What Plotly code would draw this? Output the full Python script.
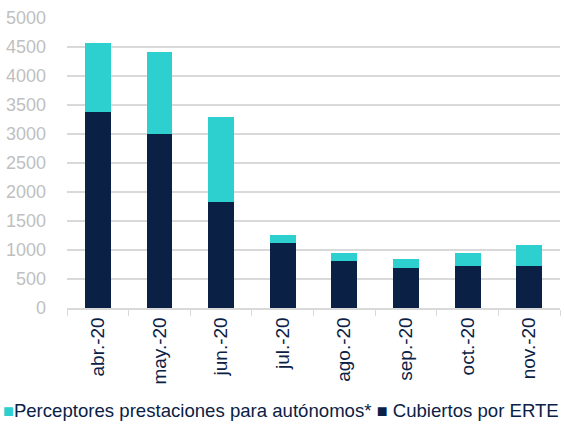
import plotly.graph_objects as go

categories = ["abr.-20", "may.-20", "jun.-20", "jul.-20", "ago.-20", "sep.-20", "oct.-20", "nov.-20"]
erte = [3380, 3000, 1830, 1115, 810, 695, 725, 725]
autonomos = [1185, 1420, 1470, 140, 140, 147, 225, 368]
name_erte = "Cubiertos por ERTE"
name_auto = "Perceptores prestaciones para autónomos*"

NAVY = "#0A2145"
TEAL = "#2ECFCF"
FONT = "Liberation Sans, Arial, sans-serif"

fig = go.Figure()
fig.add_trace(go.Bar(x=categories, y=erte, name=name_erte,
                     marker=dict(color=NAVY, line=dict(width=0))))
fig.add_trace(go.Bar(x=categories, y=autonomos, name=name_auto,
                     marker=dict(color=TEAL, line=dict(width=0))))

legend_html = (f"<span style='color:{TEAL};font-size:18px'>■</span>{name_auto} "
               f"<span style='color:{NAVY};font-size:18px'>■</span> {name_erte}")
fig.add_annotation(text=legend_html, xref="paper", yref="paper",
                   x=-0.133, xanchor="left", y=-0.352, yanchor="middle",
                   showarrow=False, font=dict(family=FONT, size=18.6, color=NAVY))

fig.update_layout(
    barmode="stack",
    bargap=0.58,
    width=564, height=424,
    margin=dict(l=67, r=4, t=18, b=116, autoexpand=False),
    paper_bgcolor="white", plot_bgcolor="white",
    font=dict(family=FONT, size=19, color=NAVY),
    showlegend=False,
    xaxis=dict(showline=True, linecolor="#D9D9D9", linewidth=1.5, automargin=False,
               ticks="outside", tickson="boundaries", tickcolor="#D9D9D9", ticklen=6,
               tickangle=-90, tickfont=dict(size=19, color=NAVY), showgrid=False),
    yaxis=dict(range=[0, 5000], dtick=500, showgrid=True, gridcolor="#D9D9D9", gridwidth=1.5,
               automargin=False, zeroline=False, tickfont=dict(size=18, color="#BFBFBF"),
               ticks="", ticklabelstandoff=20),
)

fig.write_html("out.html", config={"displayModeBar": False},
               post_script="document.body.style.margin='0';")
